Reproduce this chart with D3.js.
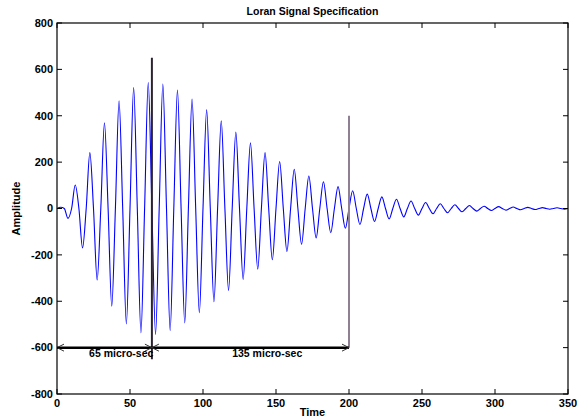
<!DOCTYPE html>
<html>
<head>
<meta charset="utf-8">
<script src="https://cdn.jsdelivr.net/npm/d3@7"></script>
<style>
  html, body { margin: 0; padding: 0; background: #fff; }
  svg { display: block; }
  text { font-family: "Liberation Sans", Arial, Helvetica, sans-serif; font-weight: bold; fill: #000; }
</style>
</head>
<body>
<svg id="chart" width="578" height="420"></svg>
<script>
// Loran pulse sampled every 2.5 micro-sec: zero crossings alternate with half-cycle crests
const signalTime = d3.range(0, 350.1, 2.5);
const signalAmplitude = [
  0, 5.5, 0, -42.5, 0, 101.2, 0, -170.0, 0, 240.9, 0, -308.6, 0, 369.5, 0, -421.8, 0, 464.5, 0, -497.5,
  0, 521.2, 0, -536.0, 0, 543.0, 0, -543.0, 0, 537.1, 0, -526.2, 0, 511.3, 0, -493.1, 0, 472.5, 0, -450.1,
  0, 426.5, 0, -402.3, 0, 377.7, 0, -353.3, 0, 329.2, 0, -305.8, 0, 283.2, 0, -261.5, 0, 240.8, 0, -221.2,
  0, 202.7, 0, -185.4, 0, 169.2, 0, -154.1, 0, 140.2, 0, -127.3, 0, 115.3, 0, -104.4, 0, 94.3, 0, -85.1,
  0, 76.7, 0, -69.1, 0, 62.1, 0, -55.8, 0, 50.1, 0, -44.9, 0, 40.2, 0, -36.0, 0, 32.2, 0, -28.7,
  0, 25.6, 0, -22.8, 0, 20.4, 0, -18.1, 0, 16.1, 0, -14.3, 0, 12.7, 0, -11.3, 0, 10.0, 0, -8.9,
  0, 7.9, 0, -7.0, 0, 6.2, 0, -5.5, 0, 4.9, 0, -4.3, 0, 3.8, 0, -3.3, 0, 3.0, 0, -2.6,
  0];

// Specification markers
const markerTimes = [65, 200];
const markerTop = [650, 400];
const markerBottom = [-650, -600];
const spanLevel = -600;
const spanStart = [0, 65];
const spanEnd = [65, 200];
const spanLabels = ["65 micro-sec", "135 micro-sec"];
const spanLabelTimes = [22, 120];

const xTicks = [0, 50, 100, 150, 200, 250, 300, 350];
const yTicks = [-800, -600, -400, -200, 0, 200, 400, 600, 800];

const margin = { left: 57, right: 10, top: 23, bottom: 26 };
const W = 578, H = 420;
const pw = W - margin.left - margin.right;
const ph = H - margin.top - margin.bottom;

const svg = d3.select("#chart");
const g = svg.append("g").attr("transform", `translate(${margin.left},${margin.top})`);

const x = d3.scaleLinear().domain([0, 350]).range([0, pw]);
const y = d3.scaleLinear().domain([-800, 800]).range([ph, 0]);

// signal trace
const line = d3.line()
  .x((d, i) => x(signalTime[i]))
  .y(d => y(d))
  .curve(d3.curveMonotoneX);
g.append("path")
  .datum(signalAmplitude)
  .attr("d", line)
  .attr("fill", "none")
  .attr("stroke", "#0000ff")
  .attr("stroke-width", 1.1)
  .attr("stroke-linejoin", "round");

// vertical markers
const markerColors = ["#2e2230", "#8f7f92"];
markerTimes.forEach((t, i) => {
  g.append("line")
    .attr("x1", x(t)).attr("x2", x(t))
    .attr("y1", y(markerTop[i])).attr("y2", y(markerBottom[i]))
    .attr("stroke", markerColors[i])
    .attr("stroke-width", 2);
});

// duration span line with arrowheads
g.append("line")
  .attr("x1", x(spanStart[0])).attr("x2", x(spanEnd[spanEnd.length - 1]))
  .attr("y1", y(spanLevel)).attr("y2", y(spanLevel))
  .attr("stroke", "#000").attr("stroke-width", 2.5);

function arrowHead(px, py, dir) {
  const len = 7, half = 3.5;
  g.append("path")
    .attr("d", `M${px - dir * len},${py - half} L${px},${py} L${px - dir * len},${py + half}`)
    .attr("fill", "none")
    .attr("stroke", "#333")
    .attr("stroke-width", 1);
}
spanStart.forEach((s, i) => {
  arrowHead(x(s), y(spanLevel), -1);
  arrowHead(x(spanEnd[i]), y(spanLevel), 1);
});

spanLabels.forEach((lbl, i) => {
  g.append("text")
    .attr("x", x(spanLabelTimes[i]))
    .attr("y", y(spanLevel) + 9)
    .attr("font-size", 10.5)
    .text(lbl);
});

// frame and inward ticks on all four sides
g.append("rect")
  .attr("x", 0).attr("y", 0).attr("width", pw).attr("height", ph)
  .attr("fill", "none").attr("stroke", "#000").attr("stroke-width", 1.2);

const tickLen = 5;
xTicks.forEach(t => {
  g.append("line").attr("x1", x(t)).attr("x2", x(t)).attr("y1", ph).attr("y2", ph - tickLen).attr("stroke", "#000");
  g.append("line").attr("x1", x(t)).attr("x2", x(t)).attr("y1", 0).attr("y2", tickLen).attr("stroke", "#000");
  g.append("text")
    .attr("x", x(t)).attr("y", ph + 13)
    .attr("text-anchor", "middle")
    .attr("font-size", 11)
    .text(t);
});
yTicks.forEach(t => {
  g.append("line").attr("x1", 0).attr("x2", tickLen).attr("y1", y(t)).attr("y2", y(t)).attr("stroke", "#000");
  g.append("line").attr("x1", pw).attr("x2", pw - tickLen).attr("y1", y(t)).attr("y2", y(t)).attr("stroke", "#000");
  g.append("text")
    .attr("x", -4).attr("y", y(t))
    .attr("dy", "0.35em")
    .attr("text-anchor", "end")
    .attr("font-size", 11)
    .text(t);
});

// titles
svg.append("text")
  .attr("x", margin.left + pw / 2).attr("y", 15)
  .attr("text-anchor", "middle")
  .attr("font-size", 10.5)
  .text("Loran Signal Specification");
svg.append("text")
  .attr("x", margin.left + pw / 2).attr("y", 416)
  .attr("text-anchor", "middle")
  .attr("font-size", 11)
  .text("Time");
svg.append("text")
  .attr("transform", `translate(20,${margin.top + ph / 2}) rotate(-90)`)
  .attr("text-anchor", "middle")
  .attr("font-size", 11)
  .text("Amplitude");
</script>
</body>
</html>
